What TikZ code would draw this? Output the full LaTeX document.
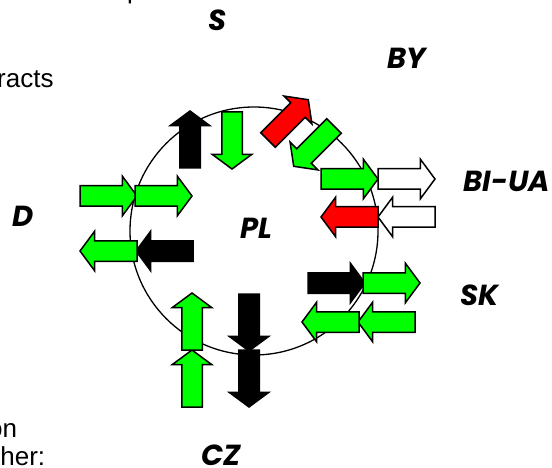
\documentclass[tikz,border=0pt]{standalone}
\usepackage{fontspec}
\setmainfont{Liberation Sans}
\newfontfamily\labelfont{Poppins}
\usetikzlibrary{shapes.arrows}
\definecolor{flowgreen}{RGB}{0,255,0}
\definecolor{flowred}{RGB}{255,0,0}

\begin{document}
\begin{tikzpicture}[
  x=1pt, y=-1pt,
  country/.style={font=\labelfont\bfseries\itshape\fontsize{29}{29}\selectfont, inner sep=0pt},
  note/.style={font=\fontsize{26}{28}\selectfont, inner sep=0pt, anchor=base west},
  flow/.style={single arrow, draw=black, line width=1.5pt, anchor=tail,
               inner xsep=0pt, inner ysep=9.5pt, outer sep=0pt, minimum height=57pt,
               single arrow head extend=9.5pt, single arrow tip angle=107},
  gflow/.style={flow, fill=flowgreen},
  rflow/.style={flow, fill=flowred},
  kflow/.style={flow, fill=black},
  wflow/.style={flow, fill=white},
]
  \useasboundingbox (0,0) rectangle (552,468);

  % Cut-off slide text
  \node[note] (ptext) at (127,-1) {p};
  \node[note] (racts) at (-3,88) {racts};
  \node[note] (ontext) at (-12,437) {on};
  \node[note] (ther) at (-7,465) {ther:};

  % Poland
  \draw[line width=1.3pt] (254,231) circle [radius=124];
  \node[country] (pl) at (256,228) {PL};

  % Neighbours
  \node[country] (s)  at (218,20)  {S};
  \node[country] (by) at (407,58)  {BY};
  \node[country] (bu) at (507,181) {BI-UA};
  \node[country] (d)  at (23,216)  {D};
  \node[country] (sk) at (480,295) {SK};
  \node[country] (cz) at (221,455) {CZ};

  % Flows to S
  \node[kflow, rotate=90]  (sout) at (190,168) {};
  \node[gflow, rotate=270] (sin)  at (232,112) {};

  % Flows to BY
  \node[rflow, rotate=45]  (byout) at (268,140) {};
  \node[gflow, rotate=225] (byin)  at (334,126) {};

  % Flows to BI-UA
  \node[gflow] (buout1) at (321,179) {};
  \node[wflow] (buout2) at (378,179) {};
  \node[wflow, rotate=180] (buin2) at (435,217) {};
  \node[rflow, rotate=180] (buin1) at (378,217) {};

  % Flows to D
  \node[gflow] (din1) at (80,196) {};
  \node[gflow] (din2) at (135,196) {};
  \node[kflow, rotate=180] (dout1) at (193,251) {};
  \node[gflow, rotate=180] (dout2) at (137,251) {};

  % Flows to SK
  \node[kflow] (skout1) at (308,283) {};
  \node[gflow] (skout2) at (363,283) {};
  \node[gflow, rotate=180] (skin2) at (415,322) {};
  \node[gflow, rotate=180] (skin1) at (359,322) {};

  % Flows to CZ
  \node[gflow, rotate=90]  (czin2)  at (192,407) {};
  \node[gflow, rotate=90]  (czin1)  at (192,350) {};
  \node[kflow, rotate=270] (czout1) at (249,294) {};
  \node[kflow, rotate=270] (czout2) at (249,350) {};
\end{tikzpicture}
\end{document}
